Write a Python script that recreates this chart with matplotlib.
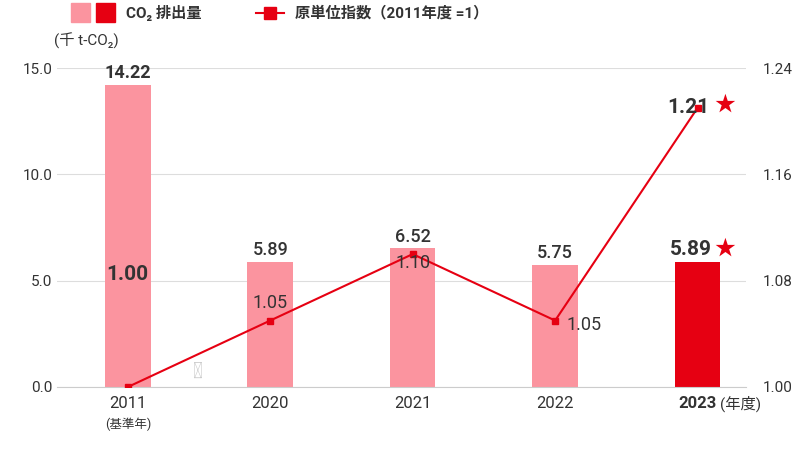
import matplotlib.pyplot as plt
import numpy as np

plt.rcParams['font.family'] = ['Roboto', 'Noto Sans CJK JP']

years = ['2011', '2020', '2021', '2022', '2023']
co2 = [14.22, 5.89, 6.52, 5.75, 5.89]
index = [1.00, 1.05, 1.10, 1.05, 1.21]
index_labels = ['1.00', '1.05', '1.10', '1.05', '1.21']

pink = '#fb949f'
red = '#e60012'
txt = '#333333'

fig = plt.figure(figsize=(8, 4.5), dpi=100)
ax = fig.add_axes([57/800, 1-387/450, (746-57)/800, (387-68)/450])
x = np.arange(len(years))
colors = [pink]*4 + [red]
ax.bar(x, co2, width=0.32, color=colors, zorder=2)
ax.set_xlim(-0.497, 4.34)
ax.set_ylim(0, 15)
ax.set_yticks([0, 5, 10, 15])
ax.set_yticklabels(['0.0', '5.0', '10.0', '15.0'], color=txt, fontsize=11)
ax.grid(axis='y', color='#dddddd', linewidth=0.8, zorder=0)
for s in ['top', 'left', 'right']:
    ax.spines[s].set_visible(False)
ax.spines['bottom'].set_color('#cccccc')
ax.tick_params(length=0)
ax.set_xticks(x)
ax.set_xticklabels([])
for i, y in enumerate(years[:4]):
    ax.text(i, -0.4, y, ha='center', va='top', fontsize=12, color=txt)
ax.text(0, -1.45, '(基準年)', ha='center', va='top', fontsize=9, color=txt)
ax.text(4, -0.4, '2023', ha='center', va='top', fontsize=12, color=txt, fontweight='bold')
ax.text(4.16, -0.4, '(年度)', ha='left', va='top', fontsize=11, color=txt)
ax.text(0.49, 0.15, '≀', fontsize=16, color='#cccccc', ha='center', va='bottom', rotation=0)

for i in range(4):
    ax.text(i, co2[i] + 0.12, f'{co2[i]:.2f}', ha='center', va='bottom', fontsize=13, color=txt,
            fontweight='bold' if i == 0 else 'medium')
ax.text(4.1, co2[4] + 0.12, f'{co2[4]:.2f}', ha='right', va='bottom', fontsize=15, color=txt, fontweight='bold')
ax.text(4.12, co2[4] + 0.15, '★', ha='left', va='bottom', fontsize=15, color=red)
ax.text(-0.52, 15.9, '(千 t-CO₂)', fontsize=11, color=txt, ha='left', va='bottom', transform=ax.transData, clip_on=False)

ax2 = ax.twinx()
ax2.set_ylim(1.0, 1.24)
ax2.set_yticks([1.00, 1.08, 1.16, 1.24])
ax2.set_yticklabels(['1.00', '1.08', '1.16', '1.24'], color=txt, fontsize=11)
ax2.tick_params(length=0, pad=12)
for s in ax2.spines.values():
    s.set_visible(False)
ax2.plot(x, index, color=red, marker='s', markersize=5, linewidth=1.5, zorder=3)
ax2.text(0, 1.085, index_labels[0], ha='center', va='center', fontsize=15, fontweight='bold', color=txt)
ax2.text(1, 1.063, index_labels[1], ha='center', va='center', fontsize=13, color=txt)
ax2.text(2, 1.093, index_labels[2], ha='center', va='center', fontsize=13, color=txt)
ax2.text(3.2, 1.047, index_labels[3], ha='center', va='center', fontsize=13, color=txt)
ax2.text(4.08, 1.21, index_labels[4], ha='right', va='center', fontsize=15, fontweight='bold', color=txt)
ax2.text(4.12, 1.212, '★', ha='left', va='center', fontsize=15, color=red)

# legend
fig.patches.append(plt.Rectangle((71/800, 1-22/450), 19/800, 19/450, color=pink, transform=fig.transFigure))
fig.patches.append(plt.Rectangle((96/800, 1-22/450), 19/800, 19/450, color=red, transform=fig.transFigure))
fig.text(126/800, 1-13/450, 'CO₂ 排出量', fontsize=11, color=txt, va='center', fontweight='bold')
fig.lines.append(plt.Line2D([256/800, 284/800], [1-13/450]*2, color=red, marker='s', markevery=[0], markersize=0, transform=fig.transFigure))
fig.lines.append(plt.Line2D([270/800], [1-13/450], color=red, marker='s', markersize=8, transform=fig.transFigure))
fig.text(295/800, 1-13/450, '原単位指数（2011年度 =1）', fontsize=11, color=txt, va='center', fontweight='bold')

fig.savefig('out.png', dpi=100)
